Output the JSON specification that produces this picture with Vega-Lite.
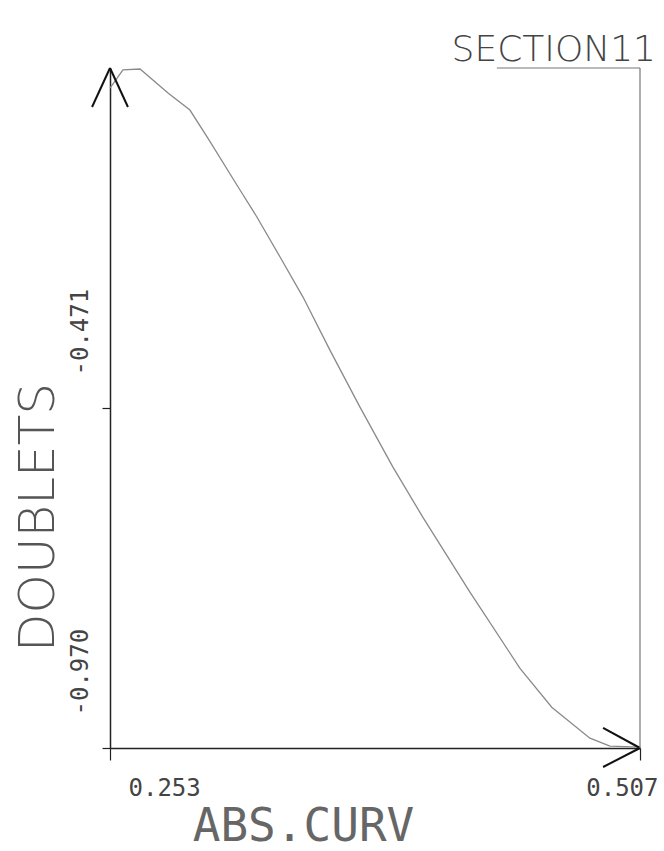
{
  "$schema": "https://vega.github.io/schema/vega-lite/v6.json",
  "width": 530,
  "height": 680,
  "autosize": "none",
  "padding": {"left": 110, "top": 68, "right": 24, "bottom": 103},
  "background": "white",
  "config": {"view": {"stroke": null}, "font": "DejaVu Sans Mono"},
  "title": {
    "text": "SECTION11",
    "anchor": "end",
    "frame": "group",
    "font": "DejaVu Sans",
    "fontSize": 36,
    "fontWeight": 200,
    "color": "#444444",
    "baseline": "alphabetic",
    "offset": 3,
    "dx": 16,
    "dy": 34
  },
  "datasets": {
    "curve": [
      {"x": 0.2530, "y": -0.0014},
      {"x": 0.2592, "y": 0.0251},
      {"x": 0.2674, "y": 0.0265},
      {"x": 0.2808, "y": -0.0087},
      {"x": 0.2913, "y": -0.0337},
      {"x": 0.2999, "y": -0.0748},
      {"x": 0.3153, "y": -0.1511},
      {"x": 0.3234, "y": -0.1907},
      {"x": 0.3345, "y": -0.2494},
      {"x": 0.3455, "y": -0.3082},
      {"x": 0.3584, "y": -0.3860},
      {"x": 0.3728, "y": -0.4697},
      {"x": 0.3886, "y": -0.5577},
      {"x": 0.4029, "y": -0.6312},
      {"x": 0.4255, "y": -0.7412},
      {"x": 0.4494, "y": -0.8528},
      {"x": 0.4647, "y": -0.9101},
      {"x": 0.4830, "y": -0.9556},
      {"x": 0.4926, "y": -0.9673},
      {"x": 0.5070, "y": -0.9687}
    ],
    "segments": [
      {"kind": "arrow", "x": 0.253, "y": 0.028, "x2": 0.2444, "y2": -0.0293},
      {"kind": "arrow", "x": 0.253, "y": 0.028, "x2": 0.2616, "y2": -0.0293},
      {"kind": "arrow", "x": 0.507, "y": -0.970, "x2": 0.4893, "y2": -0.9406},
      {"kind": "arrow", "x": 0.507, "y": -0.970, "x2": 0.4893, "y2": -0.9979},
      {"kind": "frame", "x": 0.507, "y": -0.970, "x2": 0.507, "y2": 0.028},
      {"kind": "frame", "x": 0.4384, "y": 0.028, "x2": 0.507, "y2": 0.028}
    ]
  },
  "layer": [
    {
      "data": {"name": "curve"},
      "mark": {"type": "line", "color": "#8a8a8a", "strokeWidth": 1.3},
      "encoding": {
        "x": {
          "field": "x",
          "type": "quantitative",
          "scale": {"domain": [0.253, 0.507], "nice": false, "zero": false},
          "axis": {
            "values": [0.253, 0.507],
            "labelExpr": "replace(format(datum.value, '.3f'), '\u2212', '-')",
            "grid": false,
            "domainColor": "#222222",
            "domainWidth": 1.5,
            "tickColor": "#222222",
            "tickWidth": 1.2,
            "tickSize": 12,
            "labelFont": "DejaVu Sans Mono",
            "labelFontSize": 24,
            "labelColor": "#444444",
            "labelFlush": true,
            "labelOffset": 18,
            "labelPadding": 35,
            "labelBaseline": "alphabetic",
            "labelOverlap": false,
            "labelBound": false,
            "title": "ABS.CURV",
            "titleFont": "DejaVu Sans Mono",
            "titleFontSize": 46,
            "titleFontWeight": "normal",
            "titleColor": "#666666",
            "titleX": 193,
            "titleY": 92,
            "titleAlign": "center",
            "titleBaseline": "alphabetic"
          }
        },
        "y": {
          "field": "y",
          "type": "quantitative",
          "scale": {"domain": [-0.970, 0.028], "nice": false, "zero": false},
          "axis": {
            "values": [-0.970, -0.471],
            "labelExpr": "replace(format(datum.value, '.3f'), '\u2212', '-')",
            "grid": false,
            "domainColor": "#222222",
            "domainWidth": 1.5,
            "tickColor": "#222222",
            "tickWidth": 1.2,
            "tickSize": 8,
            "labelFont": "DejaVu Sans Mono",
            "labelFontSize": 24,
            "labelColor": "#444444",
            "labelAngle": -90,
            "labelAlign": "left",
            "labelBaseline": "alphabetic",
            "labelPadding": 15,
            "labelOffset": -33,
            "labelOverlap": false,
            "labelBound": false,
            "title": "DOUBLETS",
            "titleFont": "DejaVu Sans",
            "titleFontSize": 50,
            "titleFontWeight": 200,
            "titleColor": "#555555",
            "titleAngle": -90,
            "titleX": -57,
            "titleY": 449,
            "titleAlign": "center",
            "titleBaseline": "alphabetic"
          }
        }
      }
    },
    {
      "data": {"name": "segments"},
      "transform": [{"filter": "datum.kind == 'arrow'"}],
      "mark": {"type": "rule", "color": "#111111", "strokeWidth": 2},
      "encoding": {
        "x": {"field": "x", "type": "quantitative", "scale": {"domain": [0.253, 0.507], "nice": false, "zero": false}},
        "y": {"field": "y", "type": "quantitative", "scale": {"domain": [-0.970, 0.028], "nice": false, "zero": false}},
        "x2": {"field": "x2"},
        "y2": {"field": "y2"}
      }
    },
    {
      "data": {"name": "segments"},
      "transform": [{"filter": "datum.kind == 'frame'"}],
      "mark": {"type": "rule", "color": "#777777", "strokeWidth": 1.2},
      "encoding": {
        "x": {"field": "x", "type": "quantitative", "scale": {"domain": [0.253, 0.507], "nice": false, "zero": false}},
        "y": {"field": "y", "type": "quantitative", "scale": {"domain": [-0.970, 0.028], "nice": false, "zero": false}},
        "x2": {"field": "x2"},
        "y2": {"field": "y2"}
      }
    }
  ]
}
